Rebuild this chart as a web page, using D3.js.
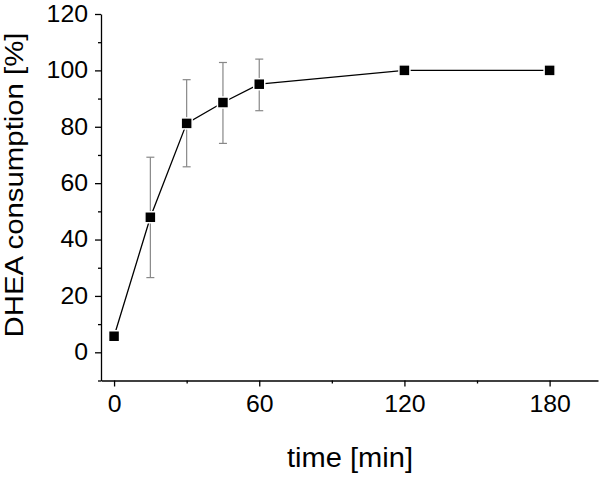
<!DOCTYPE html>
<html>
<head>
<meta charset="utf-8">
<script src="https://cdn.jsdelivr.net/npm/d3@7"></script>
<style>
  body { margin: 0; background: #fff; }
  svg text { font-family: "Liberation Sans", Arial, sans-serif; fill: #000; }
</style>
</head>
<body>
<svg width="600" height="477"></svg>
<script>
// data
const times = [0, 15, 30, 45, 60, 120, 180];
const consumption = [5.7, 47.9, 81.2, 88.6, 95.1, 100, 100];
const errUpper = [null, 69.2, 96.7, 102.8, 104, null, null];
const errLower = [null, 26.5, 65.8, 74.1, 85.7, null, null];
const xTicks = [0, 60, 120, 180];
const xMinorTicks = [30, 90, 150];
const yTicks = [0, 20, 40, 60, 80, 100, 120];
const yMinorTicks = [-10, 10, 30, 50, 70, 90, 110];

const svg = d3.select("svg");

const area = { left: 101, right: 598, top: 14, bottom: 380.5 };

const scX = d3.scaleLinear().domain([-5.4, 200]).range([area.left, area.right]);
const scY = d3.scaleLinear().domain([-10, 120]).range([area.bottom, area.top]);

// x axis
const gx = svg.append("g").attr("transform", `translate(0, ${area.bottom})`);
gx.call(d3.axisBottom(scX).tickValues(xTicks).tickSize(6).tickSizeOuter(0).tickPadding(9));
gx.append("g").call(
  d3.axisBottom(scX).tickValues(xMinorTicks).tickSize(3).tickSizeOuter(0).tickFormat("")
).select(".domain").remove();

// y axis
const gy = svg.append("g").attr("transform", `translate(${area.left}, 0)`);
gy.call(d3.axisLeft(scY).tickValues(yTicks).tickSize(6).tickSizeOuter(0).tickPadding(7));
gy.append("g").call(
  d3.axisLeft(scY).tickValues(yMinorTicks).tickSize(3).tickSizeOuter(0).tickFormat("")
).select(".domain").remove();

svg.selectAll(".tick text")
  .style("font-size", "23px")
  .attr("textLength", function () { return this.textContent.length * 13.8; })
  .attr("lengthAdjust", "spacingAndGlyphs");
svg.selectAll(".domain, .tick line").attr("stroke", "#000").attr("stroke-width", 1.3);

// axis titles
svg.append("text")
  .attr("x", 350)
  .attr("y", 467)
  .attr("text-anchor", "middle")
  .attr("textLength", 126)
  .attr("lengthAdjust", "spacingAndGlyphs")
  .style("font-size", "27px")
  .text("time [min]");

svg.append("text")
  .attr("transform", "translate(23, 185) rotate(-90)")
  .attr("text-anchor", "middle")
  .attr("textLength", 305)
  .attr("lengthAdjust", "spacingAndGlyphs")
  .style("font-size", "25px")
  .text("DHEA consumption [%]");

// error bars
const points = times.map((t, i) => ({
  t: t, v: consumption[i], hi: errUpper[i], lo: errLower[i]
}));
const withErr = points.filter((d) => d.hi !== null);
const cap = 4;
const gErr = svg.append("g").attr("stroke", "#888").attr("stroke-width", 1.2);
gErr.selectAll(".err")
  .data(withErr)
  .enter()
  .append("line")
  .attr("x1", (d) => scX(d.t))
  .attr("x2", (d) => scX(d.t))
  .attr("y1", (d) => scY(d.hi))
  .attr("y2", (d) => scY(d.lo));
gErr.selectAll(".cap-hi")
  .data(withErr)
  .enter()
  .append("line")
  .attr("x1", (d) => scX(d.t) - cap)
  .attr("x2", (d) => scX(d.t) + cap)
  .attr("y1", (d) => scY(d.hi))
  .attr("y2", (d) => scY(d.hi));
gErr.selectAll(".cap-lo")
  .data(withErr)
  .enter()
  .append("line")
  .attr("x1", (d) => scX(d.t) - cap)
  .attr("x2", (d) => scX(d.t) + cap)
  .attr("y1", (d) => scY(d.lo))
  .attr("y2", (d) => scY(d.lo));

// line
const line = d3.line().x((d) => scX(d.t)).y((d) => scY(d.v));
svg.append("path")
  .datum(points)
  .attr("d", line)
  .style("fill", "none")
  .style("stroke", "#000")
  .style("stroke-width", 1.3);

// square markers
const s = 11;
svg.append("g")
  .selectAll("rect")
  .data(points)
  .enter()
  .append("rect")
  .attr("x", (d) => scX(d.t) - s / 2)
  .attr("y", (d) => scY(d.v) - s / 2)
  .attr("width", s)
  .attr("height", s)
  .style("fill", "#000")
  .style("stroke", "#fff")
  .style("stroke-width", 1.5);
</script>
</body>
</html>
